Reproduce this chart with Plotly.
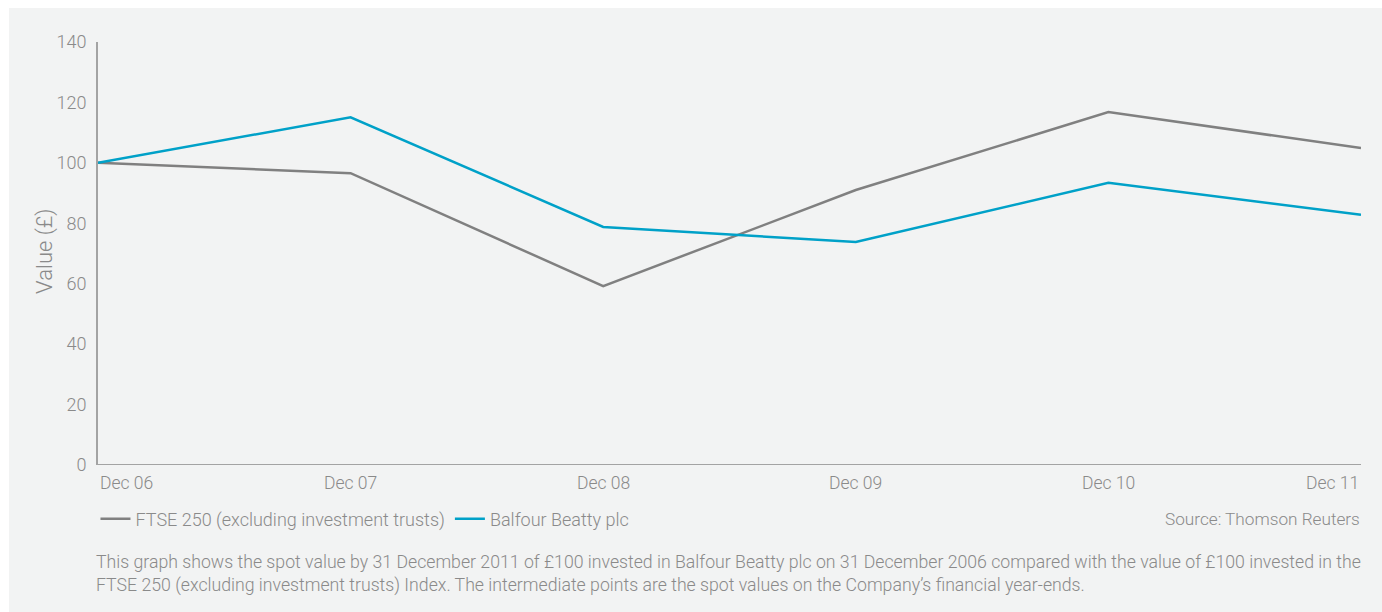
import plotly.graph_objects as go

categories = ["Dec 06", "Dec 07", "Dec 08", "Dec 09", "Dec 10", "Dec 11"]
ftse250 = [100, 96.6, 59.2, 91.0, 116.8, 104.9]
balfour = [100, 115.1, 78.8, 73.8, 93.4, 82.8]
y_ticks = [0, 20, 40, 60, 80, 100, 120, 140]

FONT = "Roboto"
TXT = "#8a8a8a"
GRAY_LINE = "#808080"
BLUE_LINE = "#00a1c8"
PANEL = "#f2f3f3"
W = 300

xpos = list(range(len(categories)))

fig = go.Figure()
fig.add_trace(go.Scatter(x=xpos, y=ftse250, mode="lines", name="FTSE 250 (excluding investment trusts)",
                         line=dict(color=GRAY_LINE, width=2.5)))
fig.add_trace(go.Scatter(x=xpos, y=balfour, mode="lines", name="Balfour Beatty plc",
                         line=dict(color=BLUE_LINE, width=2.5)))

fig.update_layout(
    width=1382, height=612,
    margin=dict(l=98, r=21, t=42, b=147),
    paper_bgcolor="white",
    plot_bgcolor="rgba(0,0,0,0)",
    font=dict(family=FONT, color=TXT, size=17, weight=W),
    showlegend=True,
    legend=dict(orientation="h", x=-0.002, xanchor="left", y=-0.128, yanchor="middle",
                bgcolor="rgba(0,0,0,0)", font=dict(size=18, color=TXT, weight=W), itemwidth=30,
                tracegroupgap=0),
    xaxis=dict(range=[0, 5], showgrid=False, zeroline=False, showticklabels=False,
               showline=False, fixedrange=True),
    yaxis=dict(range=[0, 140], tickvals=y_ticks, showgrid=False, zeroline=False,
               showline=True, linecolor="#a3a3a3", linewidth=2,
               tickfont=dict(size=18, color=TXT, weight=W), ticklabelstandoff=6),
    shapes=[
        dict(type="rect", xref="paper", yref="paper", x0=(9 - 98) / 1263, x1=1.02,
             y0=-0.4, y1=1 + (42 - 8) / 423, fillcolor=PANEL, line=dict(width=0), layer="below"),
        dict(type="line", xref="paper", yref="y", x0=0, x1=1, y0=0, y1=0,
             line=dict(color="#a3a3a3", width=2), layer="above"),
    ],
)

anchors = ["left"] + ["center"] * (len(categories) - 2) + ["right"]
for i, (c, a) in enumerate(zip(categories, anchors)):
    fig.add_annotation(x=i, xref="x", y=-0.0426, yref="paper", text=c, showarrow=False,
                       xanchor=a, yanchor="middle", font=dict(size=17.5, color=TXT, weight=W))

fig.add_annotation(x=-0.042, xref="paper", y=0.506, yref="paper", text="Value (£)", textangle=-90,
                   showarrow=False, xanchor="center", yanchor="middle",
                   font=dict(size=22, color=TXT, weight=W))

fig.add_annotation(x=1.001, xref="paper", y=-0.128, yref="paper", text="Source: Thomson Reuters",
                   showarrow=False, xanchor="right", yanchor="middle",
                   font=dict(size=17.2, color=TXT, weight=W))

fig.add_annotation(x=-0.003, xref="paper", y=-0.2, yref="paper",
                   text="This graph shows the spot value by 31 December 2011 of £100 invested in Balfour Beatty plc on 31 December 2006 compared with the value of £100 invested in the<br>FTSE 250 (excluding investment trusts) Index. The intermediate points are the spot values on the Company’s financial year-ends.",
                   showarrow=False, xanchor="left", yanchor="top", align="left",
                   font=dict(size=17.7, color=TXT, weight=W))

fig.write_html("out.html")
